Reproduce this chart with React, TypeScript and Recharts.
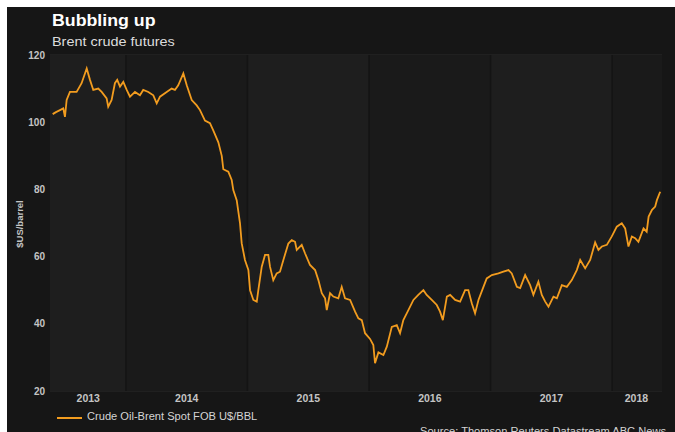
import React from 'react'
import {
  LineChart,
  Line,
  XAxis,
  YAxis,
  CartesianGrid,
  ReferenceArea,
  ReferenceLine,
} from 'recharts'

// ── Data (weekly-ish Brent) ───────────────────────────────────────────────────

// decimal years
const dates = [
  2013.397, 2013.424, 2013.457, 2013.484, 2013.498, 2013.512, 2013.539, 2013.594, 2013.635, 2013.677,
  2013.704, 2013.731, 2013.772, 2013.8, 2013.841, 2013.854, 2013.882, 2013.909, 2013.928, 2013.951,
  2013.978, 2014.006, 2014.033, 2014.074, 2014.115, 2014.142, 2014.184, 2014.225, 2014.253, 2014.28,
  2014.335, 2014.376, 2014.403, 2014.43, 2014.472, 2014.5, 2014.541, 2014.582, 2014.609, 2014.65,
  2014.691, 2014.719, 2014.76, 2014.788, 2014.801, 2014.842, 2014.87, 2014.883, 2014.911, 2014.938,
  2014.952, 2014.979, 2015.007, 2015.021, 2015.048, 2015.076, 2015.089, 2015.117, 2015.144, 2015.171,
  2015.185, 2015.212, 2015.24, 2015.267, 2015.295, 2015.336, 2015.364, 2015.391, 2015.405, 2015.446,
  2015.473, 2015.514, 2015.556, 2015.583, 2015.611, 2015.638, 2015.652, 2015.679, 2015.706, 2015.747,
  2015.775, 2015.802, 2015.844, 2015.885, 2015.912, 2015.94, 2015.967, 2016.008, 2016.035, 2016.049,
  2016.077, 2016.118, 2016.146, 2016.187, 2016.228, 2016.255, 2016.282, 2016.31, 2016.365, 2016.405,
  2016.447, 2016.474, 2016.516, 2016.557, 2016.584, 2016.607, 2016.64, 2016.667, 2016.708, 2016.749,
  2016.79, 2016.817, 2016.845, 2016.872, 2016.9, 2016.941, 2016.968, 2017.01, 2017.064, 2017.105,
  2017.147, 2017.174, 2017.216, 2017.243, 2017.284, 2017.325, 2017.352, 2017.393, 2017.421, 2017.449,
  2017.476, 2017.517, 2017.545, 2017.586, 2017.627, 2017.668, 2017.709, 2017.737, 2017.778, 2017.819,
  2017.86, 2017.887, 2017.915, 2017.956, 2017.997, 2018.038, 2018.079, 2018.107, 2018.134, 2018.162,
  2018.189, 2018.216, 2018.258, 2018.284, 2018.3, 2018.328, 2018.354, 2018.368, 2018.395,
]

// US$ per barrel
const prices = [
  102.4, 103, 103.6, 104.1, 101.6, 106.6, 109, 109, 111.6, 116,
  112.6, 109.6, 110, 109, 107.1, 104.6, 106.6, 111.6, 112.6, 110.6,
  112, 109.6, 107.6, 109, 108, 109.6, 109, 108, 105.6, 107.6,
  109, 110, 109.6, 111, 114.5, 111, 106.6, 105, 103.6, 100.5,
  99.7, 97.5, 94, 90, 86, 85.3, 82.8, 79.8, 76.8, 70,
  64, 59, 56, 50, 47.1, 46.6, 50, 57, 60.5, 60.5,
  57, 53, 55, 55.5, 59, 63.9, 64.9, 64.4, 62, 63.5,
  61, 57.5, 56, 53, 49.1, 47.6, 44.1, 49.1, 48.1, 47.6,
  51, 47.6, 47.1, 43.6, 41.6, 41.1, 37.2, 35.5, 33.7, 28.3,
  31.5, 30.7, 33.2, 39.1, 39.6, 37.2, 41.1, 43.1, 47.1, 48.6,
  50, 48.6, 47.1, 45.6, 43.6, 41.1, 48.1, 48.6, 47.1, 46.6,
  50, 50, 46.1, 43.1, 47.1, 51, 53.5, 54.5, 55, 55.5,
  56, 55, 51, 50.6, 54.5, 51.5, 48.6, 52.5, 48.6, 46.6,
  45.1, 48.1, 47.6, 51.5, 51, 53, 56, 59, 56.5, 59,
  64.2, 62, 63, 63.5, 66, 68.9, 69.9, 68.4, 63, 66,
  65.5, 64.4, 68.4, 67.4, 71.9, 73.9, 74.9, 76.8, 79.3,
]

// year bands and where each year label sits (middle of the visible band)
const bandEdges = [2013.375, 2014, 2015, 2016, 2017, 2018, 2018.41]
const yearTicks = [2013.69, 2014.5, 2015.5, 2016.5, 2017.5, 2018.2]
const yTicks = [20, 40, 60, 80, 100, 120]

// ─────────────────────────────────────────────────────────────────────────────

const data = dates.map((t, i) => ({ t, price: prices[i] }))

const ORANGE = '#f29c1f'
const FONT = '"Liberation Sans", Arial, sans-serif'

const stretched = (extra: React.CSSProperties): React.CSSProperties => ({
  position: 'absolute',
  whiteSpace: 'nowrap',
  fontFamily: FONT,
  transform: 'scaleX(1.11)',
  transformOrigin: 'left top',
  ...extra,
})

export default function App() {
  return (
    <div style={{ position: 'absolute', left: 0, top: 0, width: 675, height: 432, background: '#fff', overflow: 'hidden' }}>
      <div style={{ position: 'absolute', left: 7, top: 7, right: 0, bottom: 0, background: '#161616' }} />

      <LineChart
        width={675}
        height={432}
        data={data}
        margin={{ top: 55, right: 13, bottom: 0, left: 0 }}
        style={{ position: 'absolute', left: 0, top: 0 }}
      >
        {bandEdges.slice(0, -1).map((x1, i) => (
          <ReferenceArea
            key={x1}
            x1={x1}
            x2={bandEdges[i + 1]}
            y1={20}
            y2={120}
            fill={i % 2 === 0 ? '#1e1e1e' : '#1a1a1a'}
            fillOpacity={1}
            stroke="none"
          />
        ))}
        <CartesianGrid stroke="#2a2a2a" vertical={false} />
        {bandEdges.slice(1, -1).map((x) => (
          <ReferenceLine key={x} x={x} stroke="#141414" strokeWidth={1.5} />
        ))}
        <XAxis
          type="number"
          dataKey="t"
          domain={[2013.375, 2018.41]}
          allowDataOverflow
          ticks={yearTicks}
          tickFormatter={(v: number) => String(Math.floor(v))}
          tick={{ fill: '#c4c4c4', fontSize: 10.5, fontWeight: 'bold', fontFamily: FONT }}
          tickLine={false}
          axisLine={false}
          tickSize={0}
          tickMargin={4}
          height={41}
        />
        <YAxis
          domain={[20, 120]}
          ticks={yTicks}
          tick={{ fill: '#c4c4c4', fontSize: 10, fontWeight: 'bold', fontFamily: FONT }}
          tickLine={false}
          axisLine={false}
          tickSize={3}
          width={50}
        />
        <Line
          type="linear"
          dataKey="price"
          stroke={ORANGE}
          strokeWidth={1.8}
          dot={false}
          isAnimationActive={false}
        />
      </LineChart>

      <div style={stretched({ left: 52, top: 12, fontSize: 16, fontWeight: 'bold', color: '#fff' })}>
        Bubbling up
      </div>
      <div style={stretched({ left: 52, top: 34, fontSize: 13, color: '#dcdcdc' })}>
        Brent crude futures
      </div>

      <div
        style={{
          position: 'absolute',
          left: 19,
          top: 224,
          transform: 'translate(-50%, -50%) rotate(-90deg)',
          fontFamily: FONT,
          fontSize: 9.5,
          fontWeight: 'bold',
          color: '#c4c4c4',
          whiteSpace: 'nowrap',
        }}
      >
        $US/barrel
      </div>

      <div style={{ position: 'absolute', left: 57, top: 417, width: 25, height: 2, background: ORANGE }} />
      <div style={stretched({ left: 87, top: 411, fontSize: 10, color: '#d4d4d4' })}>
        Crude Oil-Brent Spot FOB U$/BBL
      </div>

      <div style={stretched({ left: 420, top: 426, fontSize: 10, color: '#d4d4d4' })}>
        Source: Thomson Reuters Datastream ABC News
      </div>
    </div>
  )
}
